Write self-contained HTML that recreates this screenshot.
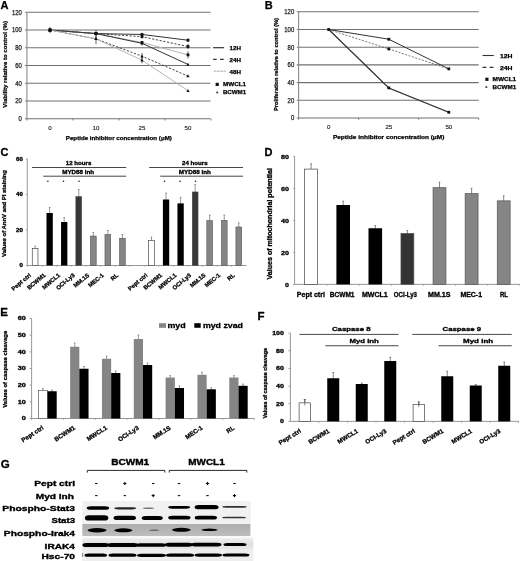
<!DOCTYPE html>
<html><head><meta charset="utf-8"><style>
html,body{margin:0;padding:0;background:#fff;}
body{width:520px;height:561px;overflow:hidden;font-family:"Liberation Sans",sans-serif;}
svg{display:block;filter:grayscale(1) blur(0.3px);}
</style></head><body>
<svg width="520" height="561" viewBox="0 0 520 561" font-family="Liberation Sans, sans-serif">
<rect width="520" height="561" fill="#fff"/>
<text x="0.4" y="9" font-size="11" text-anchor="start" font-weight="bold" fill="#000" stroke="#000" stroke-width="0.25" stroke-linejoin="round">A</text>
<line x1="25.1" y1="118.7" x2="210.5" y2="118.7" stroke="#707070" stroke-width="1.1"/>
<text x="18.6" y="121" font-size="6.4" font-weight="normal" fill="#222" stroke="#222" stroke-width="0.25" stroke-linejoin="round" textLength="3.3" lengthAdjust="spacingAndGlyphs">0</text>
<line x1="25.1" y1="100.97" x2="210.5" y2="100.97" stroke="#707070" stroke-width="1.1"/>
<text x="15.3" y="103.27" font-size="6.4" font-weight="normal" fill="#222" stroke="#222" stroke-width="0.25" stroke-linejoin="round" textLength="6.6" lengthAdjust="spacingAndGlyphs">20</text>
<line x1="25.1" y1="83.23" x2="210.5" y2="83.23" stroke="#707070" stroke-width="1.1"/>
<text x="15.3" y="85.53" font-size="6.4" font-weight="normal" fill="#222" stroke="#222" stroke-width="0.25" stroke-linejoin="round" textLength="6.6" lengthAdjust="spacingAndGlyphs">40</text>
<line x1="25.1" y1="65.5" x2="210.5" y2="65.5" stroke="#707070" stroke-width="1.1"/>
<text x="15.3" y="67.8" font-size="6.4" font-weight="normal" fill="#222" stroke="#222" stroke-width="0.25" stroke-linejoin="round" textLength="6.6" lengthAdjust="spacingAndGlyphs">60</text>
<line x1="25.1" y1="47.76" x2="210.5" y2="47.76" stroke="#707070" stroke-width="1.1"/>
<text x="15.3" y="50.06" font-size="6.4" font-weight="normal" fill="#222" stroke="#222" stroke-width="0.25" stroke-linejoin="round" textLength="6.6" lengthAdjust="spacingAndGlyphs">80</text>
<line x1="25.1" y1="30.03" x2="210.5" y2="30.03" stroke="#707070" stroke-width="1.1"/>
<text x="12" y="32.33" font-size="6.4" font-weight="normal" fill="#222" stroke="#222" stroke-width="0.25" stroke-linejoin="round" textLength="9.9" lengthAdjust="spacingAndGlyphs">100</text>
<line x1="25.1" y1="12.3" x2="210.5" y2="12.3" stroke="#707070" stroke-width="1.1"/>
<text x="12" y="14.6" font-size="6.4" font-weight="normal" fill="#222" stroke="#222" stroke-width="0.25" stroke-linejoin="round" textLength="9.9" lengthAdjust="spacingAndGlyphs">120</text>
<line x1="26.9" y1="12.3" x2="26.9" y2="118.7" stroke="#8c8c8c" stroke-width="1.1"/>
<line x1="27" y1="118.7" x2="27" y2="120.5" stroke="#707070" stroke-width="0.9"/>
<line x1="73" y1="118.7" x2="73" y2="120.5" stroke="#707070" stroke-width="0.9"/>
<line x1="119" y1="118.7" x2="119" y2="120.5" stroke="#707070" stroke-width="0.9"/>
<line x1="165" y1="118.7" x2="165" y2="120.5" stroke="#707070" stroke-width="0.9"/>
<line x1="211" y1="118.7" x2="211" y2="120.5" stroke="#707070" stroke-width="0.9"/>
<text x="50" y="129.8" font-size="6.1" text-anchor="middle" font-weight="normal" fill="#222" stroke="#222" stroke-width="0.15" stroke-linejoin="round">0</text>
<text x="96" y="129.8" font-size="6.1" text-anchor="middle" font-weight="normal" fill="#222" stroke="#222" stroke-width="0.15" stroke-linejoin="round">10</text>
<text x="142" y="129.8" font-size="6.1" text-anchor="middle" font-weight="normal" fill="#222" stroke="#222" stroke-width="0.15" stroke-linejoin="round">25</text>
<text x="188" y="129.8" font-size="6.1" text-anchor="middle" font-weight="normal" fill="#222" stroke="#222" stroke-width="0.15" stroke-linejoin="round">50</text>
<text x="65.8" y="139.8" font-size="5.8" font-weight="bold" fill="#000" stroke="#000" stroke-width="0.25" stroke-linejoin="round" textLength="106.1" lengthAdjust="spacingAndGlyphs">Peptide inhibitor concentration (μM)</text>
<text x="6.6" y="107.7" font-size="6" font-weight="bold" fill="#000" stroke="#000" stroke-width="0.25" stroke-linejoin="round" textLength="86.7" lengthAdjust="spacingAndGlyphs" transform="rotate(-90 6.6 107.7)">Viability relative to control (%)</text>
<polyline points="50,30.03 96,33.58 142,34.46 188,40.23" fill="none" stroke="#333" stroke-width="1"/>
<polyline points="50,30.03 96,33.58 142,36.68 188,46.52" fill="none" stroke="#333" stroke-width="0.9" stroke-dasharray="2.2,1.6"/>
<polyline points="50,30.03 96,33.58 142,42.44 188,54.86" fill="none" stroke="#b5b5b5" stroke-width="1"/>
<polyline points="50,30.03 96,33.58 142,43.33 188,64.43" fill="none" stroke="#333" stroke-width="1"/>
<polyline points="50,30.03 96,38.9 142,56.19 188,76.14" fill="none" stroke="#333" stroke-width="0.9" stroke-dasharray="2.2,1.6"/>
<polyline points="50,30.03 96,38.9 142,60.18 188,90.68" fill="none" stroke="#b5b5b5" stroke-width="1"/>
<line x1="50" y1="26.93" x2="50" y2="33.13" stroke="#222" stroke-width="0.7"/>
<line x1="96" y1="30.03" x2="96" y2="37.12" stroke="#222" stroke-width="0.7"/>
<line x1="96" y1="33.58" x2="96" y2="44.22" stroke="#222" stroke-width="0.7"/>
<line x1="142" y1="32.69" x2="142" y2="36.24" stroke="#222" stroke-width="0.7"/>
<line x1="142" y1="34.91" x2="142" y2="38.45" stroke="#222" stroke-width="0.7"/>
<line x1="142" y1="41.11" x2="142" y2="45.55" stroke="#222" stroke-width="0.7"/>
<line x1="142" y1="53.08" x2="142" y2="59.29" stroke="#222" stroke-width="0.7"/>
<line x1="142" y1="57.07" x2="142" y2="63.28" stroke="#222" stroke-width="0.7"/>
<line x1="188" y1="38.45" x2="188" y2="42" stroke="#222" stroke-width="0.7"/>
<line x1="188" y1="43.86" x2="188" y2="49.18" stroke="#222" stroke-width="0.7"/>
<line x1="188" y1="51.31" x2="188" y2="58.4" stroke="#222" stroke-width="0.7"/>
<rect x="48.6" y="28.63" width="2.8" height="2.8" fill="#111"/>
<rect x="94.6" y="32.18" width="2.8" height="2.8" fill="#111"/>
<rect x="140.6" y="33.06" width="2.8" height="2.8" fill="#111"/>
<rect x="186.6" y="38.83" width="2.8" height="2.8" fill="#111"/>
<rect x="48.6" y="28.63" width="2.8" height="2.8" fill="#111"/>
<rect x="94.6" y="32.18" width="2.8" height="2.8" fill="#111"/>
<rect x="140.6" y="35.28" width="2.8" height="2.8" fill="#111"/>
<rect x="186.6" y="45.12" width="2.8" height="2.8" fill="#111"/>
<rect x="48.6" y="28.63" width="2.8" height="2.8" fill="#111"/>
<rect x="94.6" y="32.18" width="2.8" height="2.8" fill="#111"/>
<rect x="140.6" y="41.04" width="2.8" height="2.8" fill="#111"/>
<rect x="186.6" y="53.46" width="2.8" height="2.8" fill="#111"/>
<path d="M50 28.23L51.6 31.23L48.4 31.23Z" fill="#111"/>
<path d="M96 31.78L97.6 34.78L94.4 34.78Z" fill="#111"/>
<path d="M142 41.53L143.6 44.53L140.4 44.53Z" fill="#111"/>
<path d="M188 62.63L189.6 65.63L186.4 65.63Z" fill="#111"/>
<path d="M50 28.23L51.6 31.23L48.4 31.23Z" fill="#111"/>
<path d="M96 37.1L97.6 40.1L94.4 40.1Z" fill="#111"/>
<path d="M142 54.39L143.6 57.39L140.4 57.39Z" fill="#111"/>
<path d="M188 74.34L189.6 77.34L186.4 77.34Z" fill="#111"/>
<path d="M50 28.23L51.6 31.23L48.4 31.23Z" fill="#111"/>
<path d="M96 37.1L97.6 40.1L94.4 40.1Z" fill="#111"/>
<path d="M142 58.38L143.6 61.38L140.4 61.38Z" fill="#111"/>
<path d="M188 88.88L189.6 91.88L186.4 91.88Z" fill="#111"/>
<line x1="213.1" y1="47.7" x2="224.1" y2="47.7" stroke="#333" stroke-width="1.2"/>
<text x="229.5" y="50.4" font-size="5.6" font-weight="bold" fill="#000" stroke="#000" stroke-width="0.25" stroke-linejoin="round" textLength="11.4" lengthAdjust="spacingAndGlyphs">12H</text>
<line x1="213.1" y1="59.4" x2="224.1" y2="59.4" stroke="#333" stroke-width="1.1" stroke-dasharray="3.6,3.4"/>
<text x="229.5" y="62.1" font-size="5.6" font-weight="bold" fill="#000" stroke="#000" stroke-width="0.25" stroke-linejoin="round" textLength="11.4" lengthAdjust="spacingAndGlyphs">24H</text>
<line x1="214" y1="71.2" x2="225.8" y2="71.2" stroke="#555" stroke-width="0.75" stroke-dasharray="0.8,0.6"/>
<text x="229.5" y="73.8" font-size="5.6" font-weight="bold" fill="#000" stroke="#000" stroke-width="0.25" stroke-linejoin="round" textLength="11.4" lengthAdjust="spacingAndGlyphs">48H</text>
<rect x="215.6" y="82.8" width="3.2" height="3.2" fill="#111"/>
<text x="222.9" y="86.2" font-size="5.6" font-weight="bold" fill="#000" stroke="#000" stroke-width="0.25" stroke-linejoin="round" textLength="23.2" lengthAdjust="spacingAndGlyphs">MWCL1</text>
<path d="M217.2 90.9L218.6 93.3L215.8 93.3Z" fill="#333"/>
<text x="222.9" y="94.4" font-size="5.6" font-weight="bold" fill="#000" stroke="#000" stroke-width="0.25" stroke-linejoin="round" textLength="23.2" lengthAdjust="spacingAndGlyphs">BCWM1</text>
<text x="264.8" y="9.1" font-size="11" text-anchor="start" font-weight="bold" fill="#000" stroke="#000" stroke-width="0.25" stroke-linejoin="round">B</text>
<line x1="296.8" y1="118" x2="478.7" y2="118" stroke="#707070" stroke-width="1.1"/>
<text x="290.9" y="120.3" font-size="6.4" font-weight="normal" fill="#222" stroke="#222" stroke-width="0.25" stroke-linejoin="round" textLength="3.3" lengthAdjust="spacingAndGlyphs">0</text>
<line x1="296.8" y1="100.3" x2="478.7" y2="100.3" stroke="#707070" stroke-width="1.1"/>
<text x="287.6" y="102.6" font-size="6.4" font-weight="normal" fill="#222" stroke="#222" stroke-width="0.25" stroke-linejoin="round" textLength="6.6" lengthAdjust="spacingAndGlyphs">20</text>
<line x1="296.8" y1="82.6" x2="478.7" y2="82.6" stroke="#707070" stroke-width="1.1"/>
<text x="287.6" y="84.9" font-size="6.4" font-weight="normal" fill="#222" stroke="#222" stroke-width="0.25" stroke-linejoin="round" textLength="6.6" lengthAdjust="spacingAndGlyphs">40</text>
<line x1="296.8" y1="64.9" x2="478.7" y2="64.9" stroke="#707070" stroke-width="1.1"/>
<text x="287.6" y="67.2" font-size="6.4" font-weight="normal" fill="#222" stroke="#222" stroke-width="0.25" stroke-linejoin="round" textLength="6.6" lengthAdjust="spacingAndGlyphs">60</text>
<line x1="296.8" y1="47.2" x2="478.7" y2="47.2" stroke="#707070" stroke-width="1.1"/>
<text x="287.6" y="49.5" font-size="6.4" font-weight="normal" fill="#222" stroke="#222" stroke-width="0.25" stroke-linejoin="round" textLength="6.6" lengthAdjust="spacingAndGlyphs">80</text>
<line x1="296.8" y1="29.5" x2="478.7" y2="29.5" stroke="#707070" stroke-width="1.1"/>
<text x="284.3" y="31.8" font-size="6.4" font-weight="normal" fill="#222" stroke="#222" stroke-width="0.25" stroke-linejoin="round" textLength="9.9" lengthAdjust="spacingAndGlyphs">100</text>
<line x1="296.8" y1="11.8" x2="478.7" y2="11.8" stroke="#707070" stroke-width="1.1"/>
<text x="284.3" y="14.1" font-size="6.4" font-weight="normal" fill="#222" stroke="#222" stroke-width="0.25" stroke-linejoin="round" textLength="9.9" lengthAdjust="spacingAndGlyphs">120</text>
<line x1="298.6" y1="11.8" x2="298.6" y2="118" stroke="#8c8c8c" stroke-width="1.1"/>
<line x1="298.6" y1="118" x2="298.6" y2="119.8" stroke="#707070" stroke-width="0.9"/>
<line x1="358.7" y1="118" x2="358.7" y2="119.8" stroke="#707070" stroke-width="0.9"/>
<line x1="418.7" y1="118" x2="418.7" y2="119.8" stroke="#707070" stroke-width="0.9"/>
<line x1="478.7" y1="118" x2="478.7" y2="119.8" stroke="#707070" stroke-width="0.9"/>
<text x="328.7" y="129.2" font-size="6.1" text-anchor="middle" font-weight="normal" fill="#222" stroke="#222" stroke-width="0.15" stroke-linejoin="round">0</text>
<text x="388.8" y="129.2" font-size="6.1" text-anchor="middle" font-weight="normal" fill="#222" stroke="#222" stroke-width="0.15" stroke-linejoin="round">25</text>
<text x="448.8" y="129.2" font-size="6.1" text-anchor="middle" font-weight="normal" fill="#222" stroke="#222" stroke-width="0.15" stroke-linejoin="round">50</text>
<text x="332.9" y="139" font-size="5.8" font-weight="bold" fill="#000" stroke="#000" stroke-width="0.25" stroke-linejoin="round" textLength="111.5" lengthAdjust="spacingAndGlyphs">Peptide inhibitor concentration (μM)</text>
<text x="278.1" y="110.9" font-size="5.8" font-weight="bold" fill="#000" stroke="#000" stroke-width="0.25" stroke-linejoin="round" textLength="92.9" lengthAdjust="spacingAndGlyphs" transform="rotate(-90 278.1 110.9)">Proliferation relative to control (%)</text>
<polyline points="328.7,29.5 388.8,39.23 448.8,68.88" fill="none" stroke="#333" stroke-width="1"/>
<polyline points="328.7,29.5 388.8,48.97 448.8,68.88" fill="none" stroke="#555" stroke-width="0.8" stroke-dasharray="2,1.5"/>
<polyline points="328.7,29.5 388.8,87.91 448.8,112.25" fill="none" stroke="#222" stroke-width="1.1"/>
<polyline points="329.6,30.1 389.7,88.51 449.7,112.85" fill="none" stroke="#555" stroke-width="0.9" stroke-dasharray="0.9,0.7"/>
<rect x="327.3" y="28.1" width="2.8" height="2.8" fill="#111"/>
<rect x="387.4" y="37.84" width="2.8" height="2.8" fill="#111"/>
<rect x="387.4" y="47.57" width="2.8" height="2.8" fill="#111"/>
<rect x="447.4" y="67.48" width="2.8" height="2.8" fill="#111"/>
<rect x="387.4" y="86.51" width="2.8" height="2.8" fill="#111"/>
<rect x="447.4" y="110.85" width="2.8" height="2.8" fill="#111"/>
<line x1="482.5" y1="55.5" x2="493.8" y2="55.5" stroke="#333" stroke-width="1.1"/>
<text x="500" y="58" font-size="5.6" font-weight="bold" fill="#000" stroke="#000" stroke-width="0.25" stroke-linejoin="round" textLength="12.5" lengthAdjust="spacingAndGlyphs">12H</text>
<line x1="482.5" y1="67.4" x2="494.5" y2="67.4" stroke="#333" stroke-width="1.1" stroke-dasharray="3.8,3.4"/>
<text x="500" y="70" font-size="5.6" font-weight="bold" fill="#000" stroke="#000" stroke-width="0.25" stroke-linejoin="round" textLength="12.5" lengthAdjust="spacingAndGlyphs">24H</text>
<rect x="485.3" y="77.7" width="3.2" height="3.2" fill="#111"/>
<text x="492.5" y="81.1" font-size="5.6" font-weight="bold" fill="#000" stroke="#000" stroke-width="0.25" stroke-linejoin="round" textLength="23.7" lengthAdjust="spacingAndGlyphs">MWCL1</text>
<path d="M486.3 85.4L487.7 87.8L484.9 87.8Z" fill="#333"/>
<text x="492.5" y="89.1" font-size="5.6" font-weight="bold" fill="#000" stroke="#000" stroke-width="0.25" stroke-linejoin="round" textLength="23.7" lengthAdjust="spacingAndGlyphs">BCWM1</text>
<text x="0.6" y="156.4" font-size="11" text-anchor="start" font-weight="bold" fill="#000" stroke="#000" stroke-width="0.3" stroke-linejoin="round">C</text>
<line x1="27.3" y1="158.94" x2="27.3" y2="265.5" stroke="#8c8c8c" stroke-width="0.9"/>
<line x1="27.3" y1="265.5" x2="246.5" y2="265.5" stroke="#8c8c8c" stroke-width="0.9"/>
<line x1="25.8" y1="265.5" x2="27.3" y2="265.5" stroke="#8c8c8c" stroke-width="0.8"/>
<text x="19.4" y="267.2" font-size="4.8" font-weight="bold" fill="#000" stroke="#000" stroke-width="0.3" stroke-linejoin="round" textLength="3.4" lengthAdjust="spacingAndGlyphs">0</text>
<line x1="25.8" y1="229.98" x2="27.3" y2="229.98" stroke="#8c8c8c" stroke-width="0.8"/>
<text x="16" y="231.68" font-size="4.8" font-weight="bold" fill="#000" stroke="#000" stroke-width="0.3" stroke-linejoin="round" textLength="6.8" lengthAdjust="spacingAndGlyphs">20</text>
<line x1="25.8" y1="194.46" x2="27.3" y2="194.46" stroke="#8c8c8c" stroke-width="0.8"/>
<text x="16" y="196.16" font-size="4.8" font-weight="bold" fill="#000" stroke="#000" stroke-width="0.3" stroke-linejoin="round" textLength="6.8" lengthAdjust="spacingAndGlyphs">40</text>
<line x1="25.8" y1="158.94" x2="27.3" y2="158.94" stroke="#8c8c8c" stroke-width="0.8"/>
<text x="16" y="160.64" font-size="4.8" font-weight="bold" fill="#000" stroke="#000" stroke-width="0.3" stroke-linejoin="round" textLength="6.8" lengthAdjust="spacingAndGlyphs">60</text>
<text x="5.9" y="256.9" font-size="5.8" font-weight="bold" fill="#000" stroke="#000" stroke-width="0.3" stroke-linejoin="round" textLength="86.7" lengthAdjust="spacingAndGlyphs" transform="rotate(-90 5.9 256.9)">Values of AnnV and PI staining</text>
<line x1="27.83" y1="265.5" x2="27.83" y2="266.8" stroke="#8c8c8c" stroke-width="0.6"/>
<line x1="42.38" y1="265.5" x2="42.38" y2="266.8" stroke="#8c8c8c" stroke-width="0.6"/>
<line x1="56.93" y1="265.5" x2="56.93" y2="266.8" stroke="#8c8c8c" stroke-width="0.6"/>
<line x1="71.48" y1="265.5" x2="71.48" y2="266.8" stroke="#8c8c8c" stroke-width="0.6"/>
<line x1="86.03" y1="265.5" x2="86.03" y2="266.8" stroke="#8c8c8c" stroke-width="0.6"/>
<line x1="100.58" y1="265.5" x2="100.58" y2="266.8" stroke="#8c8c8c" stroke-width="0.6"/>
<line x1="115.13" y1="265.5" x2="115.13" y2="266.8" stroke="#8c8c8c" stroke-width="0.6"/>
<line x1="129.68" y1="265.5" x2="129.68" y2="266.8" stroke="#8c8c8c" stroke-width="0.6"/>
<line x1="144.23" y1="265.5" x2="144.23" y2="266.8" stroke="#8c8c8c" stroke-width="0.6"/>
<line x1="158.78" y1="265.5" x2="158.78" y2="266.8" stroke="#8c8c8c" stroke-width="0.6"/>
<line x1="173.33" y1="265.5" x2="173.33" y2="266.8" stroke="#8c8c8c" stroke-width="0.6"/>
<line x1="187.88" y1="265.5" x2="187.88" y2="266.8" stroke="#8c8c8c" stroke-width="0.6"/>
<line x1="202.43" y1="265.5" x2="202.43" y2="266.8" stroke="#8c8c8c" stroke-width="0.6"/>
<line x1="216.98" y1="265.5" x2="216.98" y2="266.8" stroke="#8c8c8c" stroke-width="0.6"/>
<line x1="231.53" y1="265.5" x2="231.53" y2="266.8" stroke="#8c8c8c" stroke-width="0.6"/>
<line x1="35.1" y1="246.2" x2="35.1" y2="250.3" stroke="#555" stroke-width="0.6"/>
<line x1="34.3" y1="246.2" x2="35.9" y2="246.2" stroke="#555" stroke-width="0.6"/>
<rect x="32.25" y="248.6" width="5.7" height="16.9" fill="#fff" stroke="#333" stroke-width="0.6"/>
<text x="31.5" y="275.9" font-size="5.85" font-weight="bold" fill="#000" stroke="#000" stroke-width="0.3" stroke-linejoin="round" text-anchor="end" transform="rotate(-40 31.5 275.9)">Pept ctrl</text>
<line x1="49.65" y1="207.5" x2="49.65" y2="215" stroke="#555" stroke-width="0.6"/>
<line x1="48.85" y1="207.5" x2="50.45" y2="207.5" stroke="#555" stroke-width="0.6"/>
<rect x="46.5" y="213" width="6.3" height="52.5" fill="#000"/>
<text x="46.05" y="275.9" font-size="5.85" font-weight="bold" fill="#000" stroke="#000" stroke-width="0.3" stroke-linejoin="round" text-anchor="end" transform="rotate(-40 46.05 275.9)">BCWM1</text>
<line x1="64.2" y1="217.5" x2="64.2" y2="224" stroke="#555" stroke-width="0.6"/>
<line x1="63.4" y1="217.5" x2="65" y2="217.5" stroke="#555" stroke-width="0.6"/>
<rect x="61.05" y="222" width="6.3" height="43.5" fill="#000"/>
<text x="60.6" y="275.9" font-size="5.85" font-weight="bold" fill="#000" stroke="#000" stroke-width="0.3" stroke-linejoin="round" text-anchor="end" transform="rotate(-40 60.6 275.9)">MWCL1</text>
<line x1="78.75" y1="189.5" x2="78.75" y2="198.3" stroke="#555" stroke-width="0.6"/>
<line x1="77.95" y1="189.5" x2="79.55" y2="189.5" stroke="#555" stroke-width="0.6"/>
<rect x="75.85" y="196.55" width="5.8" height="68.95" fill="#383838" stroke="#444" stroke-width="0.5"/>
<text x="75.15" y="275.9" font-size="5.85" font-weight="bold" fill="#000" stroke="#000" stroke-width="0.3" stroke-linejoin="round" text-anchor="end" transform="rotate(-40 75.15 275.9)">OCI-Ly3</text>
<line x1="93.3" y1="232.5" x2="93.3" y2="237.8" stroke="#555" stroke-width="0.6"/>
<line x1="92.5" y1="232.5" x2="94.1" y2="232.5" stroke="#555" stroke-width="0.6"/>
<rect x="90.4" y="236.05" width="5.8" height="29.45" fill="#858585" stroke="#444" stroke-width="0.5"/>
<text x="89.7" y="275.9" font-size="5.85" font-weight="bold" fill="#000" stroke="#000" stroke-width="0.3" stroke-linejoin="round" text-anchor="end" transform="rotate(-40 89.7 275.9)">MM.1S</text>
<line x1="107.85" y1="230.5" x2="107.85" y2="236.3" stroke="#555" stroke-width="0.6"/>
<line x1="107.05" y1="230.5" x2="108.65" y2="230.5" stroke="#555" stroke-width="0.6"/>
<rect x="104.95" y="234.55" width="5.8" height="30.95" fill="#858585" stroke="#444" stroke-width="0.5"/>
<text x="104.25" y="275.9" font-size="5.85" font-weight="bold" fill="#000" stroke="#000" stroke-width="0.3" stroke-linejoin="round" text-anchor="end" transform="rotate(-40 104.25 275.9)">MEC-1</text>
<line x1="122.4" y1="234.5" x2="122.4" y2="240" stroke="#555" stroke-width="0.6"/>
<line x1="121.6" y1="234.5" x2="123.2" y2="234.5" stroke="#555" stroke-width="0.6"/>
<rect x="119.5" y="238.25" width="5.8" height="27.25" fill="#858585" stroke="#444" stroke-width="0.5"/>
<text x="118.8" y="275.9" font-size="5.85" font-weight="bold" fill="#000" stroke="#000" stroke-width="0.3" stroke-linejoin="round" text-anchor="end" transform="rotate(-40 118.8 275.9)">RL</text>
<line x1="151.5" y1="237" x2="151.5" y2="242.2" stroke="#555" stroke-width="0.6"/>
<line x1="150.7" y1="237" x2="152.3" y2="237" stroke="#555" stroke-width="0.6"/>
<rect x="148.65" y="240.5" width="5.7" height="25" fill="#fff" stroke="#333" stroke-width="0.6"/>
<text x="147.9" y="275.9" font-size="5.85" font-weight="bold" fill="#000" stroke="#000" stroke-width="0.3" stroke-linejoin="round" text-anchor="end" transform="rotate(-40 147.9 275.9)">Pept ctrl</text>
<line x1="166.05" y1="193" x2="166.05" y2="201.5" stroke="#555" stroke-width="0.6"/>
<line x1="165.25" y1="193" x2="166.85" y2="193" stroke="#555" stroke-width="0.6"/>
<rect x="162.9" y="199.5" width="6.3" height="66" fill="#000"/>
<text x="162.45" y="275.9" font-size="5.85" font-weight="bold" fill="#000" stroke="#000" stroke-width="0.3" stroke-linejoin="round" text-anchor="end" transform="rotate(-40 162.45 275.9)">BCWM1</text>
<line x1="180.6" y1="197.4" x2="180.6" y2="205.4" stroke="#555" stroke-width="0.6"/>
<line x1="179.8" y1="197.4" x2="181.4" y2="197.4" stroke="#555" stroke-width="0.6"/>
<rect x="177.45" y="203.4" width="6.3" height="62.1" fill="#000"/>
<text x="177" y="275.9" font-size="5.85" font-weight="bold" fill="#000" stroke="#000" stroke-width="0.3" stroke-linejoin="round" text-anchor="end" transform="rotate(-40 177 275.9)">MWCL1</text>
<line x1="195.15" y1="184.5" x2="195.15" y2="193.7" stroke="#555" stroke-width="0.6"/>
<line x1="194.35" y1="184.5" x2="195.95" y2="184.5" stroke="#555" stroke-width="0.6"/>
<rect x="192.25" y="191.95" width="5.8" height="73.55" fill="#383838" stroke="#444" stroke-width="0.5"/>
<text x="191.55" y="275.9" font-size="5.85" font-weight="bold" fill="#000" stroke="#000" stroke-width="0.3" stroke-linejoin="round" text-anchor="end" transform="rotate(-40 191.55 275.9)">OCI-Ly3</text>
<line x1="209.7" y1="215" x2="209.7" y2="222.3" stroke="#555" stroke-width="0.6"/>
<line x1="208.9" y1="215" x2="210.5" y2="215" stroke="#555" stroke-width="0.6"/>
<rect x="206.8" y="220.55" width="5.8" height="44.95" fill="#858585" stroke="#444" stroke-width="0.5"/>
<text x="206.1" y="275.9" font-size="5.85" font-weight="bold" fill="#000" stroke="#000" stroke-width="0.3" stroke-linejoin="round" text-anchor="end" transform="rotate(-40 206.1 275.9)">MM.1S</text>
<line x1="224.25" y1="215" x2="224.25" y2="222.1" stroke="#555" stroke-width="0.6"/>
<line x1="223.45" y1="215" x2="225.05" y2="215" stroke="#555" stroke-width="0.6"/>
<rect x="221.35" y="220.35" width="5.8" height="45.15" fill="#858585" stroke="#444" stroke-width="0.5"/>
<text x="220.65" y="275.9" font-size="5.85" font-weight="bold" fill="#000" stroke="#000" stroke-width="0.3" stroke-linejoin="round" text-anchor="end" transform="rotate(-40 220.65 275.9)">MEC-1</text>
<line x1="238.8" y1="222.8" x2="238.8" y2="228.7" stroke="#555" stroke-width="0.6"/>
<line x1="238" y1="222.8" x2="239.6" y2="222.8" stroke="#555" stroke-width="0.6"/>
<rect x="235.9" y="226.95" width="5.8" height="38.55" fill="#858585" stroke="#444" stroke-width="0.5"/>
<text x="235.2" y="275.9" font-size="5.85" font-weight="bold" fill="#000" stroke="#000" stroke-width="0.3" stroke-linejoin="round" text-anchor="end" transform="rotate(-40 235.2 275.9)">RL</text>
<text x="65.8" y="165.1" font-size="5.4" font-weight="bold" fill="#000" stroke="#000" stroke-width="0.3" stroke-linejoin="round" textLength="25.5" lengthAdjust="spacingAndGlyphs">12 hours</text>
<line x1="32.1" y1="167.5" x2="126.2" y2="167.5" stroke="#333" stroke-width="0.9"/>
<text x="62.2" y="173.5" font-size="5.1" font-weight="bold" fill="#000" stroke="#000" stroke-width="0.3" stroke-linejoin="round" textLength="32" lengthAdjust="spacingAndGlyphs">MYD88 inh</text>
<line x1="43.2" y1="176.2" x2="126.2" y2="176.2" stroke="#333" stroke-width="0.9"/>
<text x="182" y="165.1" font-size="5.4" font-weight="bold" fill="#000" stroke="#000" stroke-width="0.3" stroke-linejoin="round" textLength="25.7" lengthAdjust="spacingAndGlyphs">24 hours</text>
<line x1="149.2" y1="167.5" x2="243" y2="167.5" stroke="#333" stroke-width="0.9"/>
<text x="178.8" y="173.5" font-size="5.1" font-weight="bold" fill="#000" stroke="#000" stroke-width="0.3" stroke-linejoin="round" textLength="32.1" lengthAdjust="spacingAndGlyphs">MYD88 inh</text>
<line x1="160.2" y1="176.2" x2="243" y2="176.2" stroke="#333" stroke-width="0.9"/>
<circle cx="47.9" cy="181.3" r="0.75" fill="#111"/>
<circle cx="63.5" cy="181.3" r="0.75" fill="#111"/>
<circle cx="79" cy="181.3" r="0.75" fill="#111"/>
<circle cx="164.5" cy="181.3" r="0.75" fill="#111"/>
<circle cx="180.1" cy="181.3" r="0.75" fill="#111"/>
<circle cx="195.5" cy="181.3" r="0.75" fill="#111"/>
<text x="264.6" y="156.2" font-size="11" text-anchor="start" font-weight="bold" fill="#000" stroke="#000" stroke-width="0.3" stroke-linejoin="round">D</text>
<line x1="294.6" y1="156.4" x2="294.6" y2="284.4" stroke="#8c8c8c" stroke-width="0.9"/>
<line x1="294.6" y1="284.4" x2="520" y2="284.4" stroke="#8c8c8c" stroke-width="0.9"/>
<line x1="293.1" y1="284.4" x2="294.6" y2="284.4" stroke="#8c8c8c" stroke-width="0.8"/>
<text x="285.1" y="286.6" font-size="6.2" font-weight="bold" fill="#000" stroke="#000" stroke-width="0.3" stroke-linejoin="round" textLength="4" lengthAdjust="spacingAndGlyphs">0</text>
<line x1="293.1" y1="252.4" x2="294.6" y2="252.4" stroke="#8c8c8c" stroke-width="0.8"/>
<text x="281.1" y="254.6" font-size="6.2" font-weight="bold" fill="#000" stroke="#000" stroke-width="0.3" stroke-linejoin="round" textLength="8" lengthAdjust="spacingAndGlyphs">20</text>
<line x1="293.1" y1="220.4" x2="294.6" y2="220.4" stroke="#8c8c8c" stroke-width="0.8"/>
<text x="281.1" y="222.6" font-size="6.2" font-weight="bold" fill="#000" stroke="#000" stroke-width="0.3" stroke-linejoin="round" textLength="8" lengthAdjust="spacingAndGlyphs">40</text>
<line x1="293.1" y1="188.4" x2="294.6" y2="188.4" stroke="#8c8c8c" stroke-width="0.8"/>
<text x="281.1" y="190.6" font-size="6.2" font-weight="bold" fill="#000" stroke="#000" stroke-width="0.3" stroke-linejoin="round" textLength="8" lengthAdjust="spacingAndGlyphs">60</text>
<line x1="293.1" y1="156.4" x2="294.6" y2="156.4" stroke="#8c8c8c" stroke-width="0.8"/>
<text x="281.1" y="158.6" font-size="6.2" font-weight="bold" fill="#000" stroke="#000" stroke-width="0.3" stroke-linejoin="round" textLength="8" lengthAdjust="spacingAndGlyphs">80</text>
<text x="271.9" y="279.5" font-size="6.6" font-weight="bold" fill="#000" stroke="#000" stroke-width="0.3" stroke-linejoin="round" textLength="111.4" lengthAdjust="spacingAndGlyphs" transform="rotate(-90 271.9 279.5)">Values of mitochondrial potential</text>
<line x1="327.15" y1="284.4" x2="327.15" y2="285.9" stroke="#8c8c8c" stroke-width="0.6"/>
<line x1="311.1" y1="163.75" x2="311.1" y2="170.75" stroke="#555" stroke-width="0.7"/>
<line x1="310.3" y1="163.75" x2="311.9" y2="163.75" stroke="#555" stroke-width="0.7"/>
<rect x="304.65" y="169.1" width="12.9" height="115.3" fill="#fff" stroke="#444" stroke-width="0.7"/>
<line x1="359.25" y1="284.4" x2="359.25" y2="285.9" stroke="#8c8c8c" stroke-width="0.6"/>
<line x1="343.2" y1="201.25" x2="343.2" y2="207" stroke="#555" stroke-width="0.7"/>
<line x1="342.4" y1="201.25" x2="344" y2="201.25" stroke="#555" stroke-width="0.7"/>
<rect x="336.4" y="205" width="13.6" height="79.4" fill="#000"/>
<line x1="391.35" y1="284.4" x2="391.35" y2="285.9" stroke="#8c8c8c" stroke-width="0.6"/>
<line x1="375.3" y1="225.5" x2="375.3" y2="230.25" stroke="#555" stroke-width="0.7"/>
<line x1="374.5" y1="225.5" x2="376.1" y2="225.5" stroke="#555" stroke-width="0.7"/>
<rect x="368.5" y="228.25" width="13.6" height="56.15" fill="#000"/>
<line x1="423.45" y1="284.4" x2="423.45" y2="285.9" stroke="#8c8c8c" stroke-width="0.6"/>
<line x1="407.4" y1="230.5" x2="407.4" y2="235" stroke="#555" stroke-width="0.7"/>
<line x1="406.6" y1="230.5" x2="408.2" y2="230.5" stroke="#555" stroke-width="0.7"/>
<rect x="400.95" y="233.35" width="12.9" height="51.05" fill="#333" stroke="#555" stroke-width="0.7"/>
<line x1="455.55" y1="284.4" x2="455.55" y2="285.9" stroke="#8c8c8c" stroke-width="0.6"/>
<line x1="439.5" y1="182.2" x2="439.5" y2="189.3" stroke="#555" stroke-width="0.7"/>
<line x1="438.7" y1="182.2" x2="440.3" y2="182.2" stroke="#555" stroke-width="0.7"/>
<rect x="433.05" y="187.65" width="12.9" height="96.75" fill="#858585" stroke="#555" stroke-width="0.7"/>
<line x1="487.65" y1="284.4" x2="487.65" y2="285.9" stroke="#8c8c8c" stroke-width="0.6"/>
<line x1="471.6" y1="188.25" x2="471.6" y2="195.25" stroke="#555" stroke-width="0.7"/>
<line x1="470.8" y1="188.25" x2="472.4" y2="188.25" stroke="#555" stroke-width="0.7"/>
<rect x="465.15" y="193.6" width="12.9" height="90.8" fill="#858585" stroke="#555" stroke-width="0.7"/>
<line x1="519.75" y1="284.4" x2="519.75" y2="285.9" stroke="#8c8c8c" stroke-width="0.6"/>
<line x1="503.7" y1="195.75" x2="503.7" y2="202.5" stroke="#555" stroke-width="0.7"/>
<line x1="502.9" y1="195.75" x2="504.5" y2="195.75" stroke="#555" stroke-width="0.7"/>
<rect x="497.25" y="200.85" width="12.9" height="83.55" fill="#858585" stroke="#555" stroke-width="0.7"/>
<text x="296.8" y="296.7" font-size="6.5" font-weight="bold" fill="#000" stroke="#000" stroke-width="0.3" stroke-linejoin="round" textLength="28.1" lengthAdjust="spacingAndGlyphs">Pept ctrl</text>
<text x="329.8" y="296.7" font-size="6.5" font-weight="bold" fill="#000" stroke="#000" stroke-width="0.3" stroke-linejoin="round" textLength="24.7" lengthAdjust="spacingAndGlyphs">BCWM1</text>
<text x="361.9" y="296.7" font-size="6.5" font-weight="bold" fill="#000" stroke="#000" stroke-width="0.3" stroke-linejoin="round" textLength="25.8" lengthAdjust="spacingAndGlyphs">MWCL1</text>
<text x="393.75" y="296.7" font-size="6.5" font-weight="bold" fill="#000" stroke="#000" stroke-width="0.3" stroke-linejoin="round" textLength="23.25" lengthAdjust="spacingAndGlyphs">OCI-Ly3</text>
<text x="428" y="296.7" font-size="6.5" font-weight="bold" fill="#000" stroke="#000" stroke-width="0.3" stroke-linejoin="round" textLength="22.5" lengthAdjust="spacingAndGlyphs">MM.1S</text>
<text x="460.5" y="296.7" font-size="6.5" font-weight="bold" fill="#000" stroke="#000" stroke-width="0.3" stroke-linejoin="round" textLength="21.5" lengthAdjust="spacingAndGlyphs">MEC-1</text>
<text x="500" y="296.7" font-size="6.5" font-weight="bold" fill="#000" stroke="#000" stroke-width="0.3" stroke-linejoin="round" textLength="8" lengthAdjust="spacingAndGlyphs">RL</text>
<text x="0.2" y="315.6" font-size="11.5" text-anchor="start" font-weight="bold" fill="#000" stroke="#000" stroke-width="0.3" stroke-linejoin="round">E</text>
<line x1="31.6" y1="318.5" x2="31.6" y2="418.5" stroke="#8c8c8c" stroke-width="0.9"/>
<line x1="31.6" y1="418.5" x2="254.5" y2="418.5" stroke="#8c8c8c" stroke-width="0.9"/>
<line x1="29.6" y1="418.5" x2="31.6" y2="418.5" stroke="#8c8c8c" stroke-width="0.8"/>
<text x="21.85" y="420.4" font-size="5.3" font-weight="bold" fill="#000" stroke="#000" stroke-width="0.3" stroke-linejoin="round" textLength="4.05" lengthAdjust="spacingAndGlyphs">0</text>
<line x1="29.6" y1="401.83" x2="31.6" y2="401.83" stroke="#8c8c8c" stroke-width="0.8"/>
<text x="17.8" y="403.73" font-size="5.3" font-weight="bold" fill="#000" stroke="#000" stroke-width="0.3" stroke-linejoin="round" textLength="8.1" lengthAdjust="spacingAndGlyphs">10</text>
<line x1="29.6" y1="385.17" x2="31.6" y2="385.17" stroke="#8c8c8c" stroke-width="0.8"/>
<text x="17.8" y="387.07" font-size="5.3" font-weight="bold" fill="#000" stroke="#000" stroke-width="0.3" stroke-linejoin="round" textLength="8.1" lengthAdjust="spacingAndGlyphs">20</text>
<line x1="29.6" y1="368.5" x2="31.6" y2="368.5" stroke="#8c8c8c" stroke-width="0.8"/>
<text x="17.8" y="370.4" font-size="5.3" font-weight="bold" fill="#000" stroke="#000" stroke-width="0.3" stroke-linejoin="round" textLength="8.1" lengthAdjust="spacingAndGlyphs">30</text>
<line x1="29.6" y1="351.83" x2="31.6" y2="351.83" stroke="#8c8c8c" stroke-width="0.8"/>
<text x="17.8" y="353.73" font-size="5.3" font-weight="bold" fill="#000" stroke="#000" stroke-width="0.3" stroke-linejoin="round" textLength="8.1" lengthAdjust="spacingAndGlyphs">40</text>
<line x1="29.6" y1="335.16" x2="31.6" y2="335.16" stroke="#8c8c8c" stroke-width="0.8"/>
<text x="17.8" y="337.06" font-size="5.3" font-weight="bold" fill="#000" stroke="#000" stroke-width="0.3" stroke-linejoin="round" textLength="8.1" lengthAdjust="spacingAndGlyphs">50</text>
<line x1="29.6" y1="318.5" x2="31.6" y2="318.5" stroke="#8c8c8c" stroke-width="0.8"/>
<text x="17.8" y="320.4" font-size="5.3" font-weight="bold" fill="#000" stroke="#000" stroke-width="0.3" stroke-linejoin="round" textLength="8.1" lengthAdjust="spacingAndGlyphs">60</text>
<text x="6.7" y="407.7" font-size="6" font-weight="bold" fill="#000" stroke="#000" stroke-width="0.3" stroke-linejoin="round" textLength="76.9" lengthAdjust="spacingAndGlyphs" transform="rotate(-90 6.7 407.7)">Values of caspase cleavage</text>
<line x1="63.4" y1="418.5" x2="63.4" y2="420.1" stroke="#8c8c8c" stroke-width="0.6"/>
<line x1="31.6" y1="418.5" x2="31.6" y2="420.1" stroke="#8c8c8c" stroke-width="0.6"/>
<line x1="42.9" y1="388.5" x2="42.9" y2="391.5" stroke="#555" stroke-width="0.6"/>
<line x1="42.1" y1="388.5" x2="43.7" y2="388.5" stroke="#555" stroke-width="0.6"/>
<line x1="52.1" y1="390" x2="52.1" y2="392.75" stroke="#555" stroke-width="0.6"/>
<line x1="51.3" y1="390" x2="52.9" y2="390" stroke="#555" stroke-width="0.6"/>
<rect x="38.6" y="390.3" width="8.9" height="28.2" fill="#fff" stroke="#444" stroke-width="0.6"/>
<rect x="47.5" y="391.25" width="9.2" height="27.25" fill="#000"/>
<text x="43.9" y="428.9" font-size="6.2" font-weight="bold" fill="#000" stroke="#000" stroke-width="0.3" stroke-linejoin="round" text-anchor="end" transform="rotate(-33 43.9 428.9)">Pept ctrl</text>
<line x1="95.23" y1="418.5" x2="95.23" y2="420.1" stroke="#8c8c8c" stroke-width="0.6"/>
<line x1="74.73" y1="343" x2="74.73" y2="348.25" stroke="#555" stroke-width="0.6"/>
<line x1="73.93" y1="343" x2="75.53" y2="343" stroke="#555" stroke-width="0.6"/>
<line x1="83.93" y1="366.5" x2="83.93" y2="370.25" stroke="#555" stroke-width="0.6"/>
<line x1="83.13" y1="366.5" x2="84.73" y2="366.5" stroke="#555" stroke-width="0.6"/>
<rect x="70.13" y="346.75" width="9.2" height="71.75" fill="#858585"/>
<rect x="79.33" y="368.75" width="9.2" height="49.75" fill="#000"/>
<text x="75.73" y="428.9" font-size="6.2" font-weight="bold" fill="#000" stroke="#000" stroke-width="0.3" stroke-linejoin="round" text-anchor="end" transform="rotate(-33 75.73 428.9)">BCWM1</text>
<line x1="127.06" y1="418.5" x2="127.06" y2="420.1" stroke="#8c8c8c" stroke-width="0.6"/>
<line x1="106.56" y1="356.2" x2="106.56" y2="360.25" stroke="#555" stroke-width="0.6"/>
<line x1="105.76" y1="356.2" x2="107.36" y2="356.2" stroke="#555" stroke-width="0.6"/>
<line x1="115.76" y1="371" x2="115.76" y2="374.5" stroke="#555" stroke-width="0.6"/>
<line x1="114.96" y1="371" x2="116.56" y2="371" stroke="#555" stroke-width="0.6"/>
<rect x="101.96" y="358.75" width="9.2" height="59.75" fill="#858585"/>
<rect x="111.16" y="373" width="9.2" height="45.5" fill="#000"/>
<text x="107.56" y="428.9" font-size="6.2" font-weight="bold" fill="#000" stroke="#000" stroke-width="0.3" stroke-linejoin="round" text-anchor="end" transform="rotate(-33 107.56 428.9)">MWCL1</text>
<line x1="158.89" y1="418.5" x2="158.89" y2="420.1" stroke="#8c8c8c" stroke-width="0.6"/>
<line x1="138.39" y1="335" x2="138.39" y2="340.5" stroke="#555" stroke-width="0.6"/>
<line x1="137.59" y1="335" x2="139.19" y2="335" stroke="#555" stroke-width="0.6"/>
<line x1="147.59" y1="363" x2="147.59" y2="366.5" stroke="#555" stroke-width="0.6"/>
<line x1="146.79" y1="363" x2="148.39" y2="363" stroke="#555" stroke-width="0.6"/>
<rect x="133.79" y="339" width="9.2" height="79.5" fill="#858585"/>
<rect x="142.99" y="365" width="9.2" height="53.5" fill="#000"/>
<text x="139.39" y="428.9" font-size="6.2" font-weight="bold" fill="#000" stroke="#000" stroke-width="0.3" stroke-linejoin="round" text-anchor="end" transform="rotate(-33 139.39 428.9)">OCI-Ly3</text>
<line x1="190.72" y1="418.5" x2="190.72" y2="420.1" stroke="#8c8c8c" stroke-width="0.6"/>
<line x1="170.22" y1="375.6" x2="170.22" y2="379" stroke="#555" stroke-width="0.6"/>
<line x1="169.42" y1="375.6" x2="171.02" y2="375.6" stroke="#555" stroke-width="0.6"/>
<line x1="179.42" y1="385.8" x2="179.42" y2="389.5" stroke="#555" stroke-width="0.6"/>
<line x1="178.62" y1="385.8" x2="180.22" y2="385.8" stroke="#555" stroke-width="0.6"/>
<rect x="165.62" y="377.5" width="9.2" height="41" fill="#858585"/>
<rect x="174.82" y="388" width="9.2" height="30.5" fill="#000"/>
<text x="171.22" y="428.9" font-size="6.2" font-weight="bold" fill="#000" stroke="#000" stroke-width="0.3" stroke-linejoin="round" text-anchor="end" transform="rotate(-33 171.22 428.9)">MM.1S</text>
<line x1="222.55" y1="418.5" x2="222.55" y2="420.1" stroke="#8c8c8c" stroke-width="0.6"/>
<line x1="202.05" y1="372.3" x2="202.05" y2="376.3" stroke="#555" stroke-width="0.6"/>
<line x1="201.25" y1="372.3" x2="202.85" y2="372.3" stroke="#555" stroke-width="0.6"/>
<line x1="211.25" y1="387.8" x2="211.25" y2="390.8" stroke="#555" stroke-width="0.6"/>
<line x1="210.45" y1="387.8" x2="212.05" y2="387.8" stroke="#555" stroke-width="0.6"/>
<rect x="197.45" y="374.8" width="9.2" height="43.7" fill="#858585"/>
<rect x="206.65" y="389.3" width="9.2" height="29.2" fill="#000"/>
<text x="203.05" y="428.9" font-size="6.2" font-weight="bold" fill="#000" stroke="#000" stroke-width="0.3" stroke-linejoin="round" text-anchor="end" transform="rotate(-33 203.05 428.9)">MEC-1</text>
<line x1="254.38" y1="418.5" x2="254.38" y2="420.1" stroke="#8c8c8c" stroke-width="0.6"/>
<line x1="233.88" y1="375.6" x2="233.88" y2="379" stroke="#555" stroke-width="0.6"/>
<line x1="233.08" y1="375.6" x2="234.68" y2="375.6" stroke="#555" stroke-width="0.6"/>
<line x1="243.08" y1="384" x2="243.08" y2="387.3" stroke="#555" stroke-width="0.6"/>
<line x1="242.28" y1="384" x2="243.88" y2="384" stroke="#555" stroke-width="0.6"/>
<rect x="229.28" y="377.5" width="9.2" height="41" fill="#858585"/>
<rect x="238.48" y="385.8" width="9.2" height="32.7" fill="#000"/>
<text x="234.88" y="428.9" font-size="6.2" font-weight="bold" fill="#000" stroke="#000" stroke-width="0.3" stroke-linejoin="round" text-anchor="end" transform="rotate(-33 234.88 428.9)">RL</text>
<rect x="159" y="323.2" width="7" height="4.6" fill="#858585"/>
<text x="167.4" y="327.8" font-size="8" font-weight="bold" fill="#000" stroke="#000" stroke-width="0.3" stroke-linejoin="round" textLength="18.3" lengthAdjust="spacingAndGlyphs">myd</text>
<rect x="194.3" y="323.2" width="6.4" height="4.6" fill="#000"/>
<text x="202.9" y="327.8" font-size="8" font-weight="bold" fill="#000" stroke="#000" stroke-width="0.3" stroke-linejoin="round" textLength="40.1" lengthAdjust="spacingAndGlyphs">myd zvad</text>
<text x="257.4" y="319.9" font-size="11.5" text-anchor="start" font-weight="bold" fill="#000" stroke="#000" stroke-width="0.3" stroke-linejoin="round">F</text>
<line x1="290.4" y1="333.15" x2="290.4" y2="421.4" stroke="#8c8c8c" stroke-width="0.9"/>
<line x1="290.4" y1="421.4" x2="519" y2="421.4" stroke="#8c8c8c" stroke-width="0.9"/>
<line x1="288.4" y1="421.4" x2="290.4" y2="421.4" stroke="#8c8c8c" stroke-width="0.8"/>
<text x="280" y="423.3" font-size="5.3" font-weight="bold" fill="#000" stroke="#000" stroke-width="0.3" stroke-linejoin="round" textLength="3.9" lengthAdjust="spacingAndGlyphs">0</text>
<line x1="288.4" y1="403.75" x2="290.4" y2="403.75" stroke="#8c8c8c" stroke-width="0.8"/>
<text x="276.1" y="405.65" font-size="5.3" font-weight="bold" fill="#000" stroke="#000" stroke-width="0.3" stroke-linejoin="round" textLength="7.8" lengthAdjust="spacingAndGlyphs">20</text>
<line x1="288.4" y1="386.1" x2="290.4" y2="386.1" stroke="#8c8c8c" stroke-width="0.8"/>
<text x="276.1" y="388" font-size="5.3" font-weight="bold" fill="#000" stroke="#000" stroke-width="0.3" stroke-linejoin="round" textLength="7.8" lengthAdjust="spacingAndGlyphs">40</text>
<line x1="288.4" y1="368.45" x2="290.4" y2="368.45" stroke="#8c8c8c" stroke-width="0.8"/>
<text x="276.1" y="370.35" font-size="5.3" font-weight="bold" fill="#000" stroke="#000" stroke-width="0.3" stroke-linejoin="round" textLength="7.8" lengthAdjust="spacingAndGlyphs">60</text>
<line x1="288.4" y1="350.8" x2="290.4" y2="350.8" stroke="#8c8c8c" stroke-width="0.8"/>
<text x="276.1" y="352.7" font-size="5.3" font-weight="bold" fill="#000" stroke="#000" stroke-width="0.3" stroke-linejoin="round" textLength="7.8" lengthAdjust="spacingAndGlyphs">80</text>
<line x1="288.4" y1="333.15" x2="290.4" y2="333.15" stroke="#8c8c8c" stroke-width="0.8"/>
<text x="272.2" y="335.05" font-size="5.3" font-weight="bold" fill="#000" stroke="#000" stroke-width="0.3" stroke-linejoin="round" textLength="11.7" lengthAdjust="spacingAndGlyphs">100</text>
<text x="266.5" y="418.5" font-size="5.5" font-weight="bold" fill="#000" stroke="#000" stroke-width="0.3" stroke-linejoin="round" textLength="70.5" lengthAdjust="spacingAndGlyphs" transform="rotate(-90 266.5 418.5)">Values of caspase cleavage</text>
<line x1="319" y1="421.4" x2="319" y2="423" stroke="#8c8c8c" stroke-width="0.6"/>
<line x1="304.75" y1="399.5" x2="304.75" y2="405.5" stroke="#555" stroke-width="0.7"/>
<line x1="303.85" y1="399.5" x2="305.65" y2="399.5" stroke="#555" stroke-width="0.7"/>
<rect x="299.1" y="402.85" width="11.3" height="18.55" fill="#fff" stroke="#444" stroke-width="0.7"/>
<line x1="304.75" y1="399.5" x2="304.75" y2="405.5" stroke="#555" stroke-width="0.7"/>
<line x1="303.85" y1="399.5" x2="305.65" y2="399.5" stroke="#555" stroke-width="0.7"/>
<text x="301.45" y="432.2" font-size="6.2" font-weight="bold" fill="#000" stroke="#000" stroke-width="0.3" stroke-linejoin="round" text-anchor="end" transform="rotate(-31 301.45 432.2)">Pept ctrl</text>
<line x1="347.5" y1="421.4" x2="347.5" y2="423" stroke="#8c8c8c" stroke-width="0.6"/>
<line x1="333.25" y1="372.5" x2="333.25" y2="379.25" stroke="#555" stroke-width="0.7"/>
<line x1="332.35" y1="372.5" x2="334.15" y2="372.5" stroke="#555" stroke-width="0.7"/>
<rect x="327.25" y="378.25" width="12" height="43.15" fill="#000"/>
<text x="329.95" y="432.2" font-size="6.2" font-weight="bold" fill="#000" stroke="#000" stroke-width="0.3" stroke-linejoin="round" text-anchor="end" transform="rotate(-31 329.95 432.2)">BCWM1</text>
<line x1="376" y1="421.4" x2="376" y2="423" stroke="#8c8c8c" stroke-width="0.6"/>
<line x1="361.75" y1="383" x2="361.75" y2="385" stroke="#555" stroke-width="0.7"/>
<line x1="360.85" y1="383" x2="362.65" y2="383" stroke="#555" stroke-width="0.7"/>
<rect x="355.75" y="384" width="12" height="37.4" fill="#000"/>
<text x="358.45" y="432.2" font-size="6.2" font-weight="bold" fill="#000" stroke="#000" stroke-width="0.3" stroke-linejoin="round" text-anchor="end" transform="rotate(-31 358.45 432.2)">MWCL1</text>
<line x1="404.5" y1="421.4" x2="404.5" y2="423" stroke="#8c8c8c" stroke-width="0.6"/>
<line x1="390.25" y1="357.4" x2="390.25" y2="362" stroke="#555" stroke-width="0.7"/>
<line x1="389.35" y1="357.4" x2="391.15" y2="357.4" stroke="#555" stroke-width="0.7"/>
<rect x="384.25" y="361" width="12" height="60.4" fill="#000"/>
<text x="386.95" y="432.2" font-size="6.2" font-weight="bold" fill="#000" stroke="#000" stroke-width="0.3" stroke-linejoin="round" text-anchor="end" transform="rotate(-31 386.95 432.2)">OCI-Ly3</text>
<line x1="433" y1="421.4" x2="433" y2="423" stroke="#8c8c8c" stroke-width="0.6"/>
<line x1="418.75" y1="402" x2="418.75" y2="407.25" stroke="#555" stroke-width="0.7"/>
<line x1="417.85" y1="402" x2="419.65" y2="402" stroke="#555" stroke-width="0.7"/>
<rect x="413.1" y="404.6" width="11.3" height="16.8" fill="#fff" stroke="#444" stroke-width="0.7"/>
<line x1="418.75" y1="402" x2="418.75" y2="407.25" stroke="#555" stroke-width="0.7"/>
<line x1="417.85" y1="402" x2="419.65" y2="402" stroke="#555" stroke-width="0.7"/>
<text x="415.45" y="432.2" font-size="6.2" font-weight="bold" fill="#000" stroke="#000" stroke-width="0.3" stroke-linejoin="round" text-anchor="end" transform="rotate(-31 415.45 432.2)">Pept ctrl</text>
<line x1="461.5" y1="421.4" x2="461.5" y2="423" stroke="#8c8c8c" stroke-width="0.6"/>
<line x1="447.25" y1="371.25" x2="447.25" y2="377.25" stroke="#555" stroke-width="0.7"/>
<line x1="446.35" y1="371.25" x2="448.15" y2="371.25" stroke="#555" stroke-width="0.7"/>
<rect x="441.25" y="376.25" width="12" height="45.15" fill="#000"/>
<text x="443.95" y="432.2" font-size="6.2" font-weight="bold" fill="#000" stroke="#000" stroke-width="0.3" stroke-linejoin="round" text-anchor="end" transform="rotate(-31 443.95 432.2)">BCWM1</text>
<line x1="490" y1="421.4" x2="490" y2="423" stroke="#8c8c8c" stroke-width="0.6"/>
<line x1="475.75" y1="384.5" x2="475.75" y2="386.5" stroke="#555" stroke-width="0.7"/>
<line x1="474.85" y1="384.5" x2="476.65" y2="384.5" stroke="#555" stroke-width="0.7"/>
<rect x="469.75" y="385.5" width="12" height="35.9" fill="#000"/>
<text x="472.45" y="432.2" font-size="6.2" font-weight="bold" fill="#000" stroke="#000" stroke-width="0.3" stroke-linejoin="round" text-anchor="end" transform="rotate(-31 472.45 432.2)">MWCL1</text>
<line x1="518.5" y1="421.4" x2="518.5" y2="423" stroke="#8c8c8c" stroke-width="0.6"/>
<line x1="504.25" y1="362" x2="504.25" y2="366.75" stroke="#555" stroke-width="0.7"/>
<line x1="503.35" y1="362" x2="505.15" y2="362" stroke="#555" stroke-width="0.7"/>
<rect x="498.25" y="365.75" width="12" height="55.65" fill="#000"/>
<text x="500.95" y="432.2" font-size="6.2" font-weight="bold" fill="#000" stroke="#000" stroke-width="0.3" stroke-linejoin="round" text-anchor="end" transform="rotate(-31 500.95 432.2)">OCI-Ly3</text>
<text x="332" y="331.1" font-size="5.9" font-weight="bold" fill="#000" stroke="#000" stroke-width="0.3" stroke-linejoin="round" textLength="38.5" lengthAdjust="spacingAndGlyphs">Caspase 8</text>
<line x1="299.5" y1="334.4" x2="398.5" y2="334.4" stroke="#333" stroke-width="0.9"/>
<text x="349.5" y="342.6" font-size="5.9" font-weight="bold" fill="#000" stroke="#000" stroke-width="0.3" stroke-linejoin="round" textLength="29.3" lengthAdjust="spacingAndGlyphs">Myd inh</text>
<line x1="325.4" y1="345.8" x2="398.5" y2="345.8" stroke="#444" stroke-width="1.1"/>
<text x="442.6" y="331.1" font-size="5.9" font-weight="bold" fill="#000" stroke="#000" stroke-width="0.3" stroke-linejoin="round" textLength="38.5" lengthAdjust="spacingAndGlyphs">Caspase 9</text>
<line x1="412.3" y1="334.4" x2="511.7" y2="334.4" stroke="#333" stroke-width="0.9"/>
<text x="463.1" y="342.6" font-size="5.9" font-weight="bold" fill="#000" stroke="#000" stroke-width="0.3" stroke-linejoin="round" textLength="30" lengthAdjust="spacingAndGlyphs">Myd inh</text>
<line x1="438.5" y1="345.8" x2="511.7" y2="345.8" stroke="#444" stroke-width="1.1"/>
<text x="0.8" y="468" font-size="11.5" text-anchor="start" font-weight="bold" fill="#000" stroke="#000" stroke-width="0.35" stroke-linejoin="round">G</text>
<text x="111.2" y="465" font-size="8.4" font-weight="bold" fill="#000" stroke="#000" stroke-width="0.35" stroke-linejoin="round" textLength="38" lengthAdjust="spacingAndGlyphs">BCWM1</text>
<text x="188.3" y="465" font-size="8.4" font-weight="bold" fill="#000" stroke="#000" stroke-width="0.35" stroke-linejoin="round" textLength="36.4" lengthAdjust="spacingAndGlyphs">MWCL1</text>
<path d="M87.3 472.6V470.4H164.8V472.6" fill="none" stroke="#111" stroke-width="0.9"/>
<path d="M169.3 472.6V470.4H246.8V472.6" fill="none" stroke="#111" stroke-width="0.9"/>
<text x="34.2" y="486.2" font-size="7.6" font-weight="bold" fill="#000" stroke="#000" stroke-width="0.35" stroke-linejoin="round" textLength="40.8" lengthAdjust="spacingAndGlyphs">Pept ctrl</text>
<text x="35.8" y="498.8" font-size="7.6" font-weight="bold" fill="#000" stroke="#000" stroke-width="0.35" stroke-linejoin="round" textLength="38.1" lengthAdjust="spacingAndGlyphs">Myd inh</text>
<rect x="95.1" y="482.95" width="2.4" height="1.1" fill="#111"/>
<rect x="123.2" y="482.95" width="3.2" height="1.1" fill="#111"/>
<rect x="124.25" y="481.9" width="1.1" height="3.2" fill="#111"/>
<rect x="152" y="482.95" width="2.4" height="1.1" fill="#111"/>
<rect x="177.8" y="482.95" width="2.4" height="1.1" fill="#111"/>
<rect x="205.9" y="482.95" width="3.2" height="1.1" fill="#111"/>
<rect x="206.95" y="481.9" width="1.1" height="3.2" fill="#111"/>
<rect x="233.3" y="482.95" width="2.4" height="1.1" fill="#111"/>
<rect x="95.1" y="495.05" width="2.4" height="1.1" fill="#111"/>
<rect x="123.6" y="495.05" width="2.4" height="1.1" fill="#111"/>
<rect x="151.6" y="495.05" width="3.2" height="1.1" fill="#111"/>
<rect x="152.65" y="494" width="1.1" height="3.2" fill="#111"/>
<rect x="177.8" y="495.05" width="2.4" height="1.1" fill="#111"/>
<rect x="206.3" y="495.05" width="2.4" height="1.1" fill="#111"/>
<rect x="232.9" y="495.05" width="3.2" height="1.1" fill="#111"/>
<rect x="233.95" y="494" width="1.1" height="3.2" fill="#111"/>
<text x="2.3" y="511.1" font-size="7.9" font-weight="bold" fill="#000" stroke="#000" stroke-width="0.35" stroke-linejoin="round" textLength="72.7" lengthAdjust="spacingAndGlyphs">Phospho-Stat3</text>
<text x="51.5" y="522.8" font-size="7.9" font-weight="bold" fill="#000" stroke="#000" stroke-width="0.35" stroke-linejoin="round" textLength="23.5" lengthAdjust="spacingAndGlyphs">Stat3</text>
<text x="3.8" y="536.2" font-size="7.9" font-weight="bold" fill="#000" stroke="#000" stroke-width="0.35" stroke-linejoin="round" textLength="71.2" lengthAdjust="spacingAndGlyphs">Phospho-Irak4</text>
<text x="44.6" y="548.5" font-size="7.9" font-weight="bold" fill="#000" stroke="#000" stroke-width="0.35" stroke-linejoin="round" textLength="30.4" lengthAdjust="spacingAndGlyphs">IRAK4</text>
<text x="41.5" y="558.9" font-size="7.9" font-weight="bold" fill="#000" stroke="#000" stroke-width="0.35" stroke-linejoin="round" textLength="33.5" lengthAdjust="spacingAndGlyphs">Hsc-70</text>
<rect x="82.3" y="501" width="168.5" height="22.8" fill="#f1f1f1"/>
<defs><linearGradient id="g3" x1="0" y1="0" x2="0" y2="1"><stop offset="0" stop-color="#adadad"/><stop offset="1" stop-color="#bebebe"/></linearGradient><filter id="bl" x="-10%" y="-50%" width="120%" height="200%"><feGaussianBlur stdDeviation="0.45"/></filter><linearGradient id="g4" x1="0" y1="0" x2="0" y2="1"><stop offset="0" stop-color="#ededed"/><stop offset="0.5" stop-color="#e1e1e1"/><stop offset="1" stop-color="#e8e8e8"/></linearGradient></defs>
<rect x="82.3" y="524" width="168.1" height="12.2" fill="url(#g3)"/>
<rect x="82.3" y="536.2" width="170" height="2" fill="#fafafa"/>
<rect x="82.3" y="538.2" width="171" height="11.6" fill="url(#g4)"/>
<rect x="82.3" y="549.8" width="171" height="11.2" fill="#eeeeee"/>
<g filter="url(#bl)">
<rect x="86.7" y="506.2" width="22.5" height="3.6" rx="4" ry="1.8" fill="#000"/>
<rect x="114.3" y="507.2" width="21.7" height="2.2" rx="4" ry="1.1" fill="#222"/>
<rect x="142.9" y="507.5" width="11.3" height="1.6" rx="3.77" ry="0.8" fill="#777"/>
<rect x="168.2" y="505.9" width="21.9" height="2.8" rx="4" ry="1.4" fill="#000"/>
<rect x="194.7" y="505.1" width="23.8" height="4.2" rx="4" ry="2.1" fill="#000"/>
<rect x="222.1" y="505.95" width="24.7" height="1.7" rx="4" ry="0.85" fill="#333"/>
<rect x="84.9" y="515.3" width="23.4" height="5.2" rx="4" ry="2.6" fill="#000"/>
<rect x="113.5" y="515.8" width="22.5" height="4.2" rx="4" ry="2.1" fill="#000"/>
<rect x="141.7" y="515.9" width="21.1" height="4" rx="4" ry="2" fill="#000"/>
<rect x="168.2" y="515.8" width="22.3" height="3.8" rx="4" ry="1.9" fill="#000"/>
<rect x="194.7" y="515.8" width="22.3" height="3.8" rx="4" ry="1.9" fill="#000"/>
<rect x="222.1" y="516.65" width="23.9" height="1.7" rx="4" ry="0.85" fill="#333"/>
<ellipse cx="97.05" cy="530.3" rx="9.55" ry="2.2" fill="#000"/>
<ellipse cx="123.4" cy="530.3" rx="9.1" ry="2" fill="#000"/>
<ellipse cx="154.15" cy="530.3" rx="5.15" ry="0.8" fill="#666"/>
<ellipse cx="181.35" cy="529.8" rx="9.45" ry="2" fill="#000"/>
<ellipse cx="209.5" cy="529.8" rx="8.2" ry="1.2" fill="#000"/>
<rect x="82.4" y="543.1" width="26.6" height="4" rx="4" ry="2" fill="#000"/>
<rect x="107.5" y="543.1" width="30.5" height="4" rx="4" ry="2" fill="#000"/>
<rect x="136" y="543.15" width="30" height="3.7" rx="4" ry="1.85" fill="#000"/>
<rect x="165" y="542.75" width="27.5" height="3.9" rx="4" ry="1.95" fill="#000"/>
<rect x="191" y="542.65" width="30.5" height="3.9" rx="4" ry="1.95" fill="#000"/>
<rect x="223.5" y="542.95" width="23" height="3.1" rx="4" ry="1.55" fill="#000"/>
<rect x="84.5" y="553.55" width="22.5" height="3.3" rx="4" ry="1.65" fill="#000"/>
<rect x="108.5" y="553.55" width="28" height="3.3" rx="4" ry="1.65" fill="#000"/>
<rect x="137" y="553.7" width="29" height="3.2" rx="4" ry="1.6" fill="#000"/>
<rect x="166" y="553.55" width="28" height="3.3" rx="4" ry="1.65" fill="#000"/>
<rect x="194.5" y="553.45" width="27.5" height="3.3" rx="4" ry="1.65" fill="#000"/>
<rect x="222.5" y="553.6" width="26.9" height="3" rx="4" ry="1.5" fill="#000"/>
</g>
<line x1="82.6" y1="553" x2="82.6" y2="557" stroke="#333" stroke-width="0.6"/>
</svg>
</body></html>
